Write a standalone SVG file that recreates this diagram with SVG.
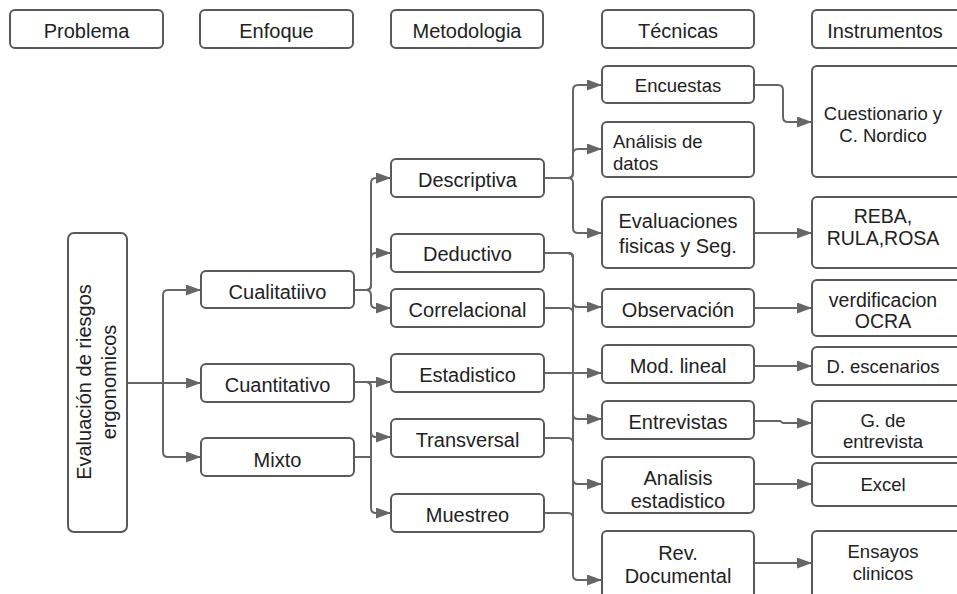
<svg xmlns="http://www.w3.org/2000/svg" width="957" height="594" viewBox="0 0 957 594">
  <style>
    .box { fill: #ffffff; stroke: #595959; stroke-width: 2; }
    .t { font-family: "Liberation Sans", Arial, sans-serif; font-size: 20px; fill: #222222; text-anchor: middle; }
    .s { font-size: 18.5px; }
    .m { font-size: 19.5px; }
    .l { text-anchor: start; }
    .link { fill: none; stroke: #666666; stroke-width: 2; }
  </style>
  <defs>
    <marker id="arrow" markerUnits="userSpaceOnUse" markerWidth="15" markerHeight="11" refX="15" refY="5.5" orient="auto">
      <path d="M0,0 L15,5.5 L0,11 z" fill="#666666"/>
    </marker>
  </defs>
  <rect width="957" height="594" fill="#ffffff"/>

  <!-- column headers -->
  <g id="h-problema"><rect class="box" x="10" y="10" width="153" height="38" rx="5"/><text class="t" x="86.5" y="38">Problema</text></g>
  <g id="h-enfoque"><rect class="box" x="200" y="10" width="153" height="38" rx="5"/><text class="t" x="276.5" y="38">Enfoque</text></g>
  <g id="h-metodologia"><rect class="box" x="391" y="10" width="152" height="38" rx="5"/><text class="t" x="467" y="38">Metodologia</text></g>
  <g id="h-tecnicas"><rect class="box" x="602" y="10" width="152" height="38" rx="5"/><text class="t" x="678" y="38">Técnicas</text></g>
  <g id="h-instrumentos"><rect class="box" x="812" y="10" width="150" height="38" rx="5"/><text class="t" x="885" y="38">Instrumentos</text></g>

  <!-- connectors -->
  <g id="connectors" class="link">
    <!-- problem to approaches -->
    <path d="M127,383 H201" marker-end="url(#arrow)"/>
    <path d="M163,383 V295 Q163,290 168,290 H201" marker-end="url(#arrow)"/>
    <path d="M163,383 V452 Q163,457 168,457 H201" marker-end="url(#arrow)"/>
    <!-- approaches to methodology -->
    <path d="M354,290 H366 Q371,290 371,285 V183 Q371,178 376,178 H391" marker-end="url(#arrow)"/>
    <path d="M354,290 H366 Q371,290 371,285 V258 Q371,253 376,253 H391" marker-end="url(#arrow)"/>
    <path d="M354,290 H366 Q371,290 371,295 V303 Q371,308 376,308 H391" marker-end="url(#arrow)"/>
    <path d="M354,382 H391" marker-end="url(#arrow)"/>
    <path d="M354,382 H366 Q371,382 371,387 V432 Q371,437 376,437 H391" marker-end="url(#arrow)"/>
    <path d="M354,382 H366 Q371,382 371,387 V508 Q371,513 376,513 H391" marker-end="url(#arrow)"/>
    <path d="M354,457 H371"/>
    <!-- methodology to techniques -->
    <path d="M544,178 H568 Q573,178 573,173 V90 Q573,85 578,85 H602" marker-end="url(#arrow)"/>
    <path d="M544,178 H568 Q573,178 573,173 V154 Q573,149 578,149 H602" marker-end="url(#arrow)"/>
    <path d="M544,178 H568 Q573,178 573,183 V228 Q573,233 578,233 H602" marker-end="url(#arrow)"/>
    <path d="M544,253 H568 Q573,253 573,258 V302 Q573,307 578,307 H602" marker-end="url(#arrow)"/>
    <path d="M544,253 H568 Q573,253 573,258 V414 Q573,419 578,419 H602" marker-end="url(#arrow)"/>
    <path d="M544,253 H568 Q573,253 573,258 V479 Q573,484 578,484 H602" marker-end="url(#arrow)"/>
    <path d="M544,253 H568 Q573,253 573,258 V575 Q573,580 578,580 H602" marker-end="url(#arrow)"/>
    <path d="M544,308 H568 Q573,308 573,313"/>
    <path d="M544,373 H602" marker-end="url(#arrow)"/>
    <path d="M544,438 H568 Q573,438 573,443"/>
    <path d="M544,513 H568 Q573,513 573,518"/>
    <!-- techniques to instruments -->
    <path d="M754,85 H778 Q783,85 783,90 V117 Q783,122 788,122 H812" marker-end="url(#arrow)"/>
    <path d="M754,233 H812" marker-end="url(#arrow)"/>
    <path d="M754,308 H812" marker-end="url(#arrow)"/>
    <path d="M754,366 H812" marker-end="url(#arrow)"/>
    <path d="M754,421 H780 L783,423 H812" marker-end="url(#arrow)"/>
    <path d="M754,484 H812" marker-end="url(#arrow)"/>
    <path d="M754,563 H812" marker-end="url(#arrow)"/>
  </g>

  <!-- problem -->
  <g id="n-evaluacion">
    <rect class="box" x="68" y="233" width="59" height="299" rx="6"/>
    <text class="t" transform="translate(91,382) rotate(-90)"><tspan x="0" y="0">Evaluación de riesgos</tspan><tspan x="0" y="25">ergonomicos</tspan></text>
  </g>

  <!-- approaches -->
  <g id="n-cualitativo"><rect class="box" x="201" y="271" width="153" height="37" rx="5"/><text class="t" x="277.5" y="299">Cualitatiivo</text></g>
  <g id="n-cuantitativo"><rect class="box" x="201" y="364" width="153" height="38" rx="5"/><text class="t" x="277.5" y="392">Cuantitativo</text></g>
  <g id="n-mixto"><rect class="box" x="201" y="438" width="153" height="38" rx="5"/><text class="t" x="277.5" y="467">Mixto</text></g>

  <!-- methodology -->
  <g id="n-descriptiva"><rect class="box" x="391" y="159" width="153" height="38" rx="5"/><text class="t" x="467.5" y="187">Descriptiva</text></g>
  <g id="n-deductivo"><rect class="box" x="391" y="234" width="153" height="38" rx="5"/><text class="t" x="467.5" y="261">Deductivo</text></g>
  <g id="n-correlacional"><rect class="box" x="391" y="289" width="153" height="38" rx="5"/><text class="t" x="467.5" y="317">Correlacional</text></g>
  <g id="n-estadistico"><rect class="box" x="391" y="354" width="153" height="38" rx="5"/><text class="t" x="467.5" y="382">Estadistico</text></g>
  <g id="n-transversal"><rect class="box" x="391" y="419" width="153" height="38" rx="5"/><text class="t" x="467.5" y="447">Transversal</text></g>
  <g id="n-muestreo"><rect class="box" x="391" y="494" width="153" height="38" rx="5"/><text class="t" x="467.5" y="522">Muestreo</text></g>

  <!-- techniques -->
  <g id="n-encuestas"><rect class="box" x="602" y="66" width="152" height="37" rx="5"/><text class="t s" x="678" y="92">Encuestas</text></g>
  <g id="n-analisis-datos"><rect class="box" x="602" y="122" width="152" height="55" rx="5"/><text class="t s l" x="613"><tspan x="613" y="148">Análisis de</tspan><tspan x="613" y="170">datos</tspan></text></g>
  <g id="n-evaluaciones"><rect class="box" x="602" y="197" width="152" height="71" rx="5"/><text class="t" x="678"><tspan x="678" y="228">Evaluaciones</tspan><tspan x="678" y="253">fisicas y Seg.</tspan></text></g>
  <g id="n-observacion"><rect class="box" x="602" y="289" width="152" height="38" rx="5"/><text class="t" x="678" y="317">Observación</text></g>
  <g id="n-mod-lineal"><rect class="box" x="602" y="345" width="152" height="38" rx="5"/><text class="t" x="678" y="373">Mod. lineal</text></g>
  <g id="n-entrevistas"><rect class="box" x="602" y="401" width="152" height="38" rx="5"/><text class="t" x="678" y="429">Entrevistas</text></g>
  <g id="n-analisis-estadistico"><rect class="box" x="602" y="457" width="152" height="56" rx="5"/><text class="t" x="678"><tspan x="678" y="485">Analisis</tspan><tspan x="678" y="508">estadistico</tspan></text></g>
  <g id="n-rev-documental"><rect class="box" x="602" y="531" width="152" height="70" rx="5"/><text class="t" x="678"><tspan x="678" y="560">Rev.</tspan><tspan x="678" y="583">Documental</tspan></text></g>

  <!-- instruments -->
  <g id="n-cuestionario"><rect class="box" x="812" y="66" width="150" height="111" rx="5"/><text class="t s" x="883"><tspan x="883" y="120">Cuestionario y</tspan><tspan x="883" y="142">C. Nordico</tspan></text></g>
  <g id="n-reba"><rect class="box" x="812" y="197" width="150" height="71" rx="5"/><text class="t m" x="883"><tspan x="883" y="223">REBA,</tspan><tspan x="883" y="245">RULA,ROSA</tspan></text></g>
  <g id="n-verificacion"><rect class="box" x="812" y="280" width="150" height="56" rx="5"/><text class="t m" x="883"><tspan x="883" y="307">verdificacion</tspan><tspan x="883" y="328">OCRA</tspan></text></g>
  <g id="n-escenarios"><rect class="box" x="812" y="347" width="150" height="38" rx="5"/><text class="t s" x="883" y="373">D. escenarios</text></g>
  <g id="n-guia"><rect class="box" x="812" y="401" width="150" height="56" rx="5"/><text class="t s" x="883"><tspan x="883" y="427">G. de</tspan><tspan x="883" y="448">entrevista</tspan></text></g>
  <g id="n-excel"><rect class="box" x="812" y="463" width="150" height="43" rx="5"/><text class="t s" x="883" y="491">Excel</text></g>
  <g id="n-ensayos"><rect class="box" x="812" y="531" width="150" height="70" rx="5"/><text class="t s" x="883"><tspan x="883" y="558">Ensayos</tspan><tspan x="883" y="580">clinicos</tspan></text></g>
</svg>
